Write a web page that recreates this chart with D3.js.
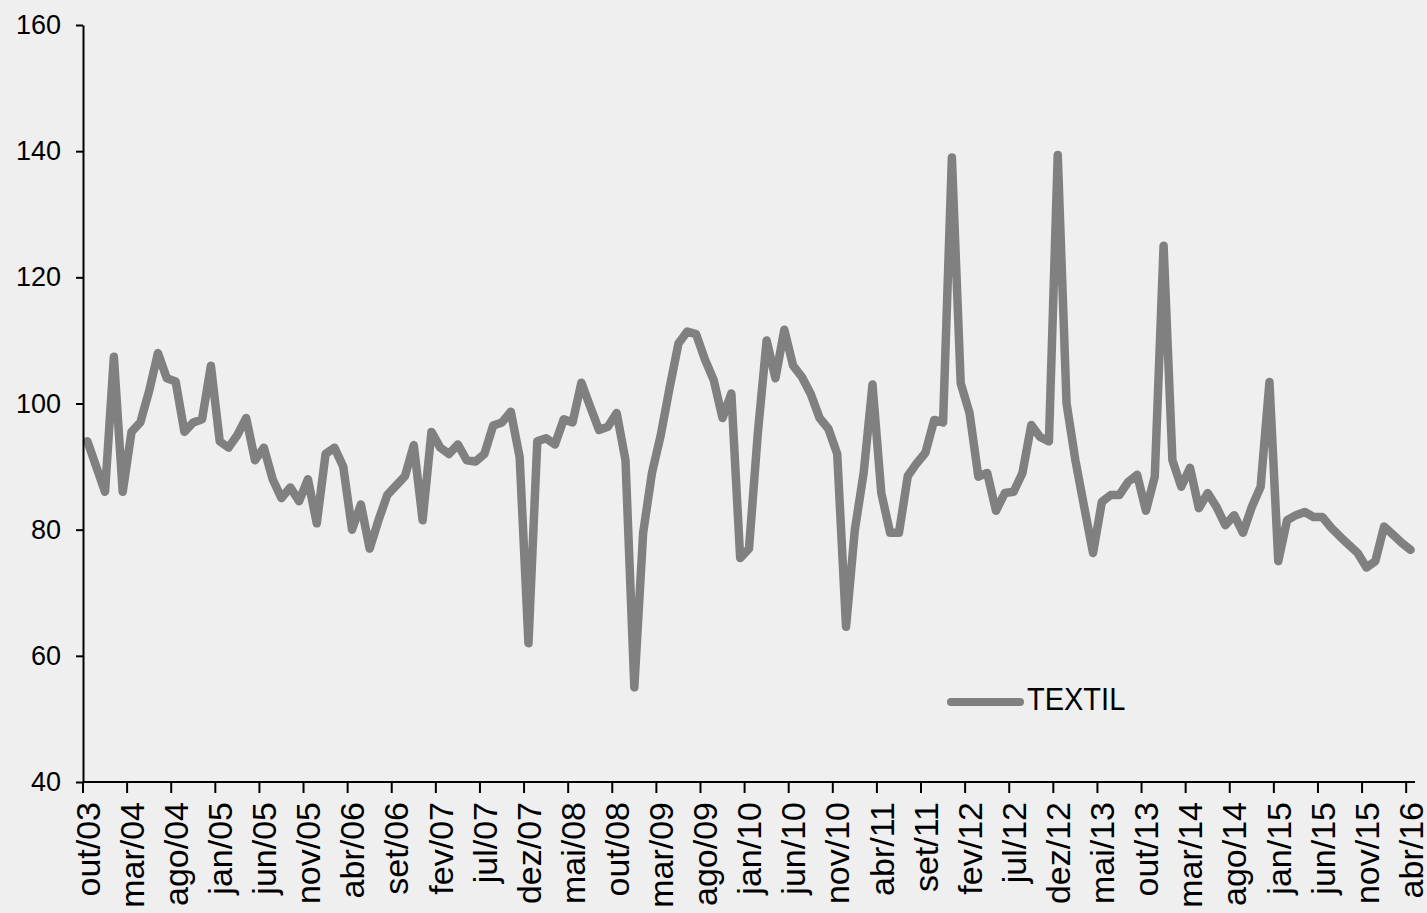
<!DOCTYPE html>
<html>
<head>
<meta charset="utf-8">
<script src="https://cdn.jsdelivr.net/npm/d3@7"></script>
<style>
  html, body { margin: 0; padding: 0; background: #efefef; }
  svg { display: block; }
  text { font-family: "Liberation Sans", Arial, sans-serif; fill: #000; }
</style>
</head>
<body>
<svg id="chart" width="1427" height="913"></svg>
<script>
// ---- data ----
const monthNames = ["jan","fev","mar","abr","mai","jun","jul","ago","set","out","nov","dez"];
const startYear = 2003, startMonth = 9; // out/03
const seriesName = "TEXTIL";
const values = [
  94, 90, 86, 107.4, 86, 95.5, 97, 102, 108, 104,
  103.5, 95.5, 97, 97.5, 106, 94, 93, 95, 97.7, 91,
  93, 88, 85, 86.7, 84.5, 88, 81, 92, 93, 90,
  80, 84, 77, 81.5, 85.5, 87, 88.5, 93.4, 81.5, 95.5,
  93, 92, 93.5, 91, 90.8, 92, 96.5, 97, 98.7, 91.5,
  62, 94, 94.5, 93.5, 97.5, 97, 103.3, 99.5, 95.8, 96.3,
  98.5, 91, 55, 79.5, 89, 95, 102.5, 109.5, 111.4, 111,
  107, 103.7, 97.7, 101.6, 75.5, 77, 95.3, 110, 104, 111.7,
  106, 104.2, 101.5, 97.7, 96, 92, 64.6, 80, 89, 103,
  85.8, 79.5, 79.5, 88.5, 90.5, 92.2, 97.4, 97, 139, 103.2,
  98.5, 88.4, 89, 83, 85.8, 86, 89, 96.6, 94.7, 94,
  139.4, 100, 91, 83.6, 76.3, 84.4, 85.5, 85.5, 87.6, 88.7,
  83, 88.4, 125, 91, 86.8, 89.8, 83.4, 85.8, 83.6, 80.7,
  82.3, 79.5, 83.6, 86.8, 103.4, 75, 81.5, 82.3, 82.8, 82,
  82, 80.3, 78.9, 77.6, 76.3, 74, 75, 80.5, 79.2, 77.9,
  76.8
];
const categories = values.map((_, i) => {
  const m = startMonth + i;
  const yr = startYear + Math.floor(m / 12);
  return monthNames[m % 12] + "/" + String(yr % 100).padStart(2, "0");
});
const tickEvery = 5;
const tickLabels = categories.filter((_, i) => i % tickEvery === 0);
const yTicks = [40, 60, 80, 100, 120, 140, 160];

// ---- layout ----
const svg = d3.select("#chart");
const W = 1427, H = 913;
const mLeft = 83, mRight = 1415, mTop = 25, mBottom = 782;

svg.append("rect").attr("width", W).attr("height", H).attr("fill", "#efefef");

const x = d3.scaleBand().domain(categories).range([mLeft, mRight]).paddingInner(0).paddingOuter(0);
const y = d3.scaleLinear().domain([40, 160]).range([mBottom, mTop]);

// line
const line = d3.line()
  .x((d, i) => x(categories[i]) + x.bandwidth() / 2)
  .y(d => y(d));

svg.append("path")
  .datum(values)
  .attr("d", line)
  .attr("fill", "none")
  .attr("stroke", "#808080")
  .attr("stroke-width", 8.5)
  .attr("stroke-linejoin", "round")
  .attr("stroke-linecap", "round");

// y axis
const yAxis = d3.axisLeft(y).tickValues(yTicks).tickSizeInner(7).tickSizeOuter(0).tickPadding(15);
const gy = svg.append("g").attr("transform", `translate(${mLeft},0)`).call(yAxis);
gy.select(".domain").attr("stroke", "#000").attr("stroke-width", 2);
gy.selectAll(".tick line").attr("stroke", "#000").attr("stroke-width", 2);
gy.selectAll(".tick text")
  .attr("font-size", 27)
  .attr("font-family", "Liberation Sans, Arial, sans-serif")
  .attr("fill", "#000");

// x axis
const gx = svg.append("g");
gx.append("line")
  .attr("x1", mLeft).attr("x2", mRight)
  .attr("y1", mBottom).attr("y2", mBottom)
  .attr("stroke", "#000").attr("stroke-width", 2);

gx.selectAll(".xtick")
  .data(tickLabels)
  .join("line")
  .attr("class", "xtick")
  .attr("x1", d => x(d)).attr("x2", d => x(d))
  .attr("y1", mBottom).attr("y2", mBottom + 11)
  .attr("stroke", "#000").attr("stroke-width", 2);

gx.selectAll(".xlabel")
  .data(tickLabels)
  .join("text")
  .attr("class", "xlabel")
  .attr("transform", d => `translate(${x(d) + x.bandwidth() / 2},${mBottom + 20}) rotate(-90)`)
  .attr("text-anchor", "end")
  .attr("dy", "0.36em")
  .attr("font-size", 34)
  .text(d => d);

// legend
const lg = svg.append("g");
lg.append("line")
  .attr("x1", 951).attr("x2", 1020)
  .attr("y1", 702).attr("y2", 702)
  .attr("stroke", "#808080").attr("stroke-width", 8)
  .attr("stroke-linecap", "round");
lg.append("text")
  .attr("transform", "translate(1027,710) scale(1,1.1)")
  .attr("font-size", 29)
  .text(seriesName);
</script>
</body>
</html>
